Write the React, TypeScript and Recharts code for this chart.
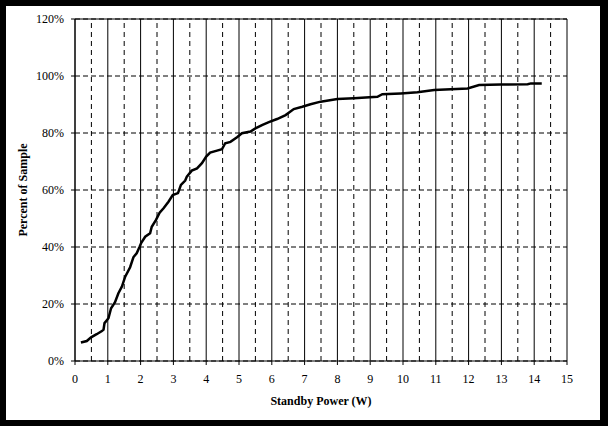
import { LineChart, Line, XAxis, YAxis, CartesianGrid, ReferenceLine } from 'recharts';

// Standby power (W) and cumulative percent of sample
const powerW = [
  0.18, 0.36, 0.49, 0.66, 0.82, 0.87, 0.9, 1.02, 1.1, 1.22, 1.32, 1.43, 1.53, 1.68, 1.78, 1.88,
  1.97, 2.02, 2.14, 2.29, 2.34, 2.47, 2.58, 2.7, 2.85, 2.98, 3.14, 3.23, 3.36, 3.41, 3.56, 3.72,
  3.87, 4.0, 4.12, 4.33, 4.48, 4.58, 4.74, 4.94, 5.09, 5.35, 5.5, 5.7, 5.91, 6.16, 6.42, 6.67,
  6.93, 7.18, 7.49, 8.0, 8.5, 9.22, 9.37, 9.93, 10.44, 10.95, 11.97, 12.32, 12.98, 13.8, 13.9, 14.23,
];
const percentSample = [
  6.5, 7.0, 8.3, 9.4, 10.5, 11, 13.3, 15, 18.5, 20.6, 23.7, 26.1, 29.6, 32.9, 36.4, 37.8,
  40.1, 41.5, 43.6, 44.8, 47.1, 49.5, 52.0, 53.6, 55.9, 58.2, 58.9, 61.8, 63.3, 64.7, 66.8, 67.6,
  69.4, 71.7, 73.1, 73.8, 74.3, 76.4, 76.9, 78.5, 79.9, 80.5, 81.6, 82.8, 83.8, 84.9, 86.3, 88.4,
  89.2, 90.1, 91.0, 91.9, 92.2, 92.7, 93.6, 93.9, 94.3, 95.1, 95.6, 96.8, 97.0, 97.1, 97.4, 97.4,
];

const xTicks = [0, 1, 2, 3, 4, 5, 6, 7, 8, 9, 10, 11, 12, 13, 14, 15];
const xHalfTicks = [0.5, 1.5, 2.5, 3.5, 4.5, 5.5, 6.5, 7.5, 8.5, 9.5, 10.5, 11.5, 12.5, 13.5, 14.5];
const yTicks = [0, 20, 40, 60, 80, 100, 120];

const data = powerW.map((x, i) => ({ x, y: percentSample[i] }));

const font = '"Liberation Serif", "Times New Roman", serif';
const tickStyle = { fill: '#000', fontSize: 12, fontFamily: font };

export default function App() {
  return (
    <div style={{ position: 'absolute', left: 0, top: 0, width: 608, height: 426, background: '#000' }}>
      <div style={{ position: 'absolute', left: 6, top: 6, width: 594, height: 414, background: '#fff' }}>
        <LineChart width={594} height={414} data={data} margin={{ top: 13, right: 33, left: 0, bottom: 0 }}>
          <CartesianGrid horizontal vertical={false} stroke="#000" strokeDasharray="5 3" />
          <CartesianGrid horizontal={false} vertical stroke="#000" />
          {xHalfTicks.map((v) => (
            <ReferenceLine key={v} x={v} stroke="#000" strokeDasharray="5 4" />
          ))}
          <ReferenceLine y={120} stroke="#000" />
          <XAxis
            type="number"
            dataKey="x"
            domain={[0, 15]}
            ticks={xTicks}
            interval={0}
            height={59}
            stroke="#000"
            tickSize={4}
            tickMargin={9}
            tick={tickStyle}
            label={{
              value: 'Standby Power (W)',
              position: 'insideBottom',
              offset: 15,
              style: { fill: '#000', fontSize: 12, fontWeight: 'bold', fontFamily: font },
            }}
          />
          <YAxis
            type="number"
            domain={[0, 120]}
            ticks={yTicks}
            interval={0}
            width={69}
            stroke="#000"
            tickSize={4}
            tickMargin={7}
            tick={tickStyle}
            tickFormatter={(v: number) => `${v}%`}
            label={{
              value: 'Percent of Sample',
              angle: -90,
              position: 'insideLeft',
              offset: 17,
              style: { textAnchor: 'middle', fill: '#000', fontSize: 12, fontWeight: 'bold', fontFamily: font },
            }}
          />
          <Line
            type="linear"
            dataKey="y"
            stroke="#000"
            strokeWidth={2.5}
            dot={false}
            isAnimationActive={false}
          />
        </LineChart>
      </div>
    </div>
  );
}
